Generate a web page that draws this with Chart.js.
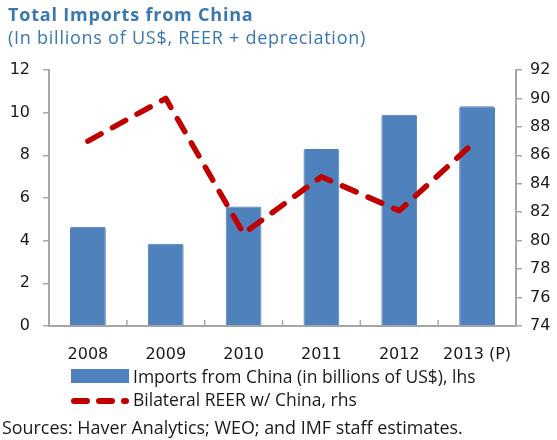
<!DOCTYPE html>
<html>
<head>
<meta charset="utf-8">
<script src="https://cdn.jsdelivr.net/npm/chart.js@4"></script>
<style>
  html, body { margin: 0; padding: 0; background: #fff; }
  #wrap { width: 557px; height: 440px; }
</style>
</head>
<body>
<div id="wrap"><canvas id="importsChart"></canvas></div>
<script>
const years = ['2008', '2009', '2010', '2011', '2012', '2013 (P)'];
const imports = [4.65, 3.85, 5.6, 8.3, 9.9, 10.3];
const reer = [87.0, 90.0, 80.5, 84.5, 82.1, 87.1];
const leftTicks = [0, 2, 4, 6, 8, 10, 12];
const rightTicks = [74, 76, 78, 80, 82, 84, 86, 88, 90, 92];

const titleText = 'Total Imports from China';
const subtitleText = '(In billions of US$, REER + depreciation)';
const sourceText = 'Sources: Haver Analytics; WEO; and IMF staff estimates.';

const blue = '#4F81BD';
const red = '#C00000';
const axisGray = '#A6A6A6';
const titleBlue = '#3A78B2';
const tickFont = { family: 'DejaVu Sans', size: 16 };

// titles, legend, source line and the small inward x ticks
const decorations = {
  id: 'decorations',
  afterDraw(chart) {
    const ctx = chart.ctx;
    const area = chart.chartArea;
    const x = chart.scales.x;
    ctx.save();

    ctx.strokeStyle = axisGray;
    ctx.lineWidth = 1.5;
    for (let i = 0; i < years.length - 1; i++) {
      const px = (x.getPixelForValue(i) + x.getPixelForValue(i + 1)) / 2;
      ctx.beginPath();
      ctx.moveTo(px, area.bottom);
      ctx.lineTo(px, area.bottom - 6);
      ctx.stroke();
    }

    ctx.textBaseline = 'alphabetic';
    ctx.textAlign = 'left';
    ctx.fillStyle = titleBlue;
    ctx.letterSpacing = '0.8px';
    ctx.font = 'bold 18px "Open Sans"';
    ctx.fillText(titleText, 8, 21);
    ctx.letterSpacing = '0.75px';
    ctx.font = '18px "Open Sans"';
    ctx.fillText(subtitleText, 8, 44);
    ctx.letterSpacing = '0px';

    // legend
    ctx.fillStyle = blue;
    ctx.fillRect(71, 369, 58, 14);
    ctx.strokeStyle = red;
    ctx.lineWidth = 6;
    ctx.lineCap = 'round';
    ctx.setLineDash([13, 12]);
    ctx.beginPath();
    ctx.moveTo(74, 401);
    ctx.lineTo(126, 401);
    ctx.stroke();
    ctx.setLineDash([]);

    ctx.fillStyle = '#1a1a1a';
    ctx.font = '17.5px "Open Sans"';
    ctx.fillText('Imports from China (in billions of US$), lhs', 133, 383);
    ctx.fillText('Bilateral REER w/ China, rhs', 133, 406);
    ctx.font = '17.9px "Open Sans"';
    ctx.fillText(sourceText, 2, 434);

    ctx.restore();
  }
};

new Chart(document.getElementById('importsChart'), {
  data: {
    labels: years,
    datasets: [
      {
        type: 'line',
        label: 'Bilateral REER w/ China, rhs',
        data: reer,
        yAxisID: 'y1',
        borderColor: red,
        borderWidth: 5.5,
        borderDash: [15, 13],
        borderCapStyle: 'round',
        borderJoinStyle: 'round',
        pointRadius: 0,
        tension: 0,
        order: 0
      },
      {
        type: 'bar',
        label: 'Imports from China (in billions of US$), lhs',
        data: imports,
        yAxisID: 'y',
        backgroundColor: blue,
        borderColor: '#4A7DB5',
        borderWidth: 1,
        borderRadius: 2,
        borderSkipped: 'bottom',
        barPercentage: 0.46,
        categoryPercentage: 1,
        order: 1
      }
    ]
  },
  options: {
    responsive: true,
    maintainAspectRatio: false,
    animation: false,
    layout: { padding: { top: 70, bottom: 74, left: 0, right: 0 } },
    plugins: {
      legend: { display: false },
      title: { display: false },
      tooltip: { enabled: false }
    },
    scales: {
      x: {
        offset: true,
        grid: { display: false },
        border: { display: true, color: axisGray, width: 2 },
        ticks: { color: '#1a1a1a', font: tickFont, padding: 11, maxRotation: 0, autoSkip: false },
        afterFit(scale) { scale.height = 40; }
      },
      y: {
        position: 'left',
        min: 0,
        max: 12,
        afterBuildTicks(scale) { scale.ticks = leftTicks.map(v => ({ value: v })); },
        grid: { drawOnChartArea: false, drawTicks: true, tickLength: 6, color: axisGray, lineWidth: 1.5 },
        border: { display: true, color: axisGray, width: 2 },
        ticks: { color: '#1a1a1a', font: tickFont, padding: 13 },
        afterFit(scale) { scale.width = 49; }
      },
      y1: {
        position: 'right',
        min: 74,
        max: 92,
        afterBuildTicks(scale) { scale.ticks = rightTicks.map(v => ({ value: v })); },
        grid: { drawOnChartArea: false, drawTicks: true, tickLength: 6, color: axisGray, lineWidth: 1.5 },
        border: { display: true, color: axisGray, width: 2 },
        ticks: { color: '#1a1a1a', font: tickFont, padding: 8 },
        afterFit(scale) { scale.width = 41; }
      }
    }
  },
  plugins: [decorations]
});
</script>
</body>
</html>
